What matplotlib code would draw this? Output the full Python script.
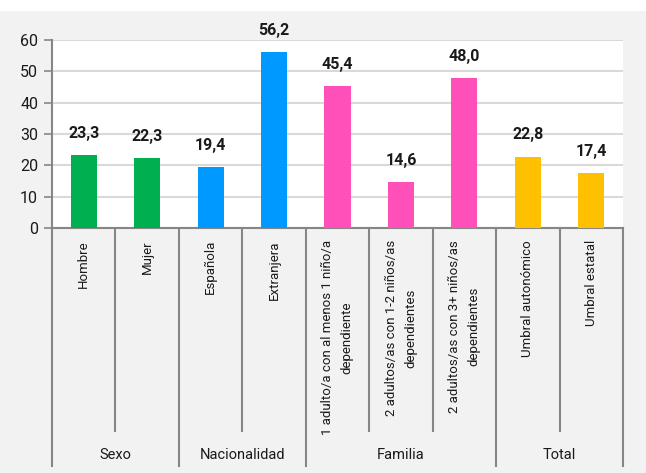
import matplotlib
matplotlib.use("Agg")
import matplotlib.pyplot as plt
from matplotlib.patches import Rectangle
import matplotlib.transforms as mtransforms

plt.rcParams['font.family'] = ['Liberation Sans Narrow', 'Roboto', 'DejaVu Sans']

categorias = ["Hombre", "Mujer", "Española", "Extranjera",
              "1 adulto/a con al menos 1 niño/a\ndependiente",
              "2 adultos/as con 1-2 niños/as\ndependientes",
              "2 adultos/as con 3+ niños/as\ndependientes",
              "Umbral autonómico", "Umbral estatal"]
valores = [23.3, 22.3, 19.4, 56.2, 45.4, 14.6, 48.0, 22.8, 17.4]
grupos = ["Sexo", "Nacionalidad", "Familia", "Total"]
tam_grupos = [2, 2, 3, 2]
colores_grupo = ["#00b050", "#0099ff", "#ff4fb8", "#ffc000"]

colores = []
for c, n in zip(colores_grupo, tam_grupos):
    colores += [c] * n

fig = plt.figure(figsize=(6.46, 4.73), dpi=100, facecolor="#f2f2f2")
fig.patches.append(Rectangle((0, 462 / 473), 1, 11 / 473, transform=fig.transFigure,
                             facecolor="white", edgecolor="none", zorder=0))
ax = fig.add_axes([52 / 646, 245 / 473, 571 / 646, 188 / 473])
ax.set_facecolor("white")

x = list(range(len(valores)))
ax.bar(x, valores, width=0.41, color=colores, zorder=3)
for xi, v in zip(x, valores):
    ax.text(xi, v + 4.5, f"{v:.1f}".replace(".", ","), ha="center", va="bottom",
            fontsize=11.5, fontweight="bold", color="#1a1a1a")

ax.set_xlim(-0.5, len(valores) - 0.5)
ax.set_ylim(0, 60)
ax.set_yticks(range(0, 61, 10))
ax.yaxis.grid(True, color="#d9d9d9", linewidth=1.5, zorder=0)
ax.set_axisbelow(True)
ax.tick_params(axis="y", length=6, width=1.2, color="#868686", labelsize=11.5,
               labelcolor="#1a1a1a", pad=4)
ax.set_xticks([])
for s in ["top", "right"]:
    ax.spines[s].set_visible(False)
for s in ["left", "bottom"]:
    ax.spines[s].set_color("#868686")
    ax.spines[s].set_linewidth(1.5)

trans = mtransforms.blended_transform_factory(ax.transData, ax.transAxes)
sep_color = "#868686"

# etiquetas de categoría
for xi, lab in zip(x, categorias):
    ax.text(xi, -0.064, lab, transform=trans, rotation=90, ha="center", va="top",
            multialignment="center", linespacing=1.6, fontsize=9.5, color="#1a1a1a")

# separadores
bordes_grupo = [-0.5]
for n in tam_grupos:
    bordes_grupo.append(bordes_grupo[-1] + n)
for i in range(len(valores) + 1):
    xb = i - 0.5
    y_fin = -1.266 if xb in bordes_grupo else -1.08
    ax.plot([xb, xb], [0, y_fin], transform=trans, color=sep_color,
            linewidth=1.5, clip_on=False)

# etiquetas de grupo
for g, a, b in zip(grupos, bordes_grupo[:-1], bordes_grupo[1:]):
    ax.text((a + b) / 2, -1.207, g, transform=trans, ha="center", va="center",
            fontsize=10.5, color="#1a1a1a")

fig.savefig("out.png", dpi=100, facecolor=fig.get_facecolor())
